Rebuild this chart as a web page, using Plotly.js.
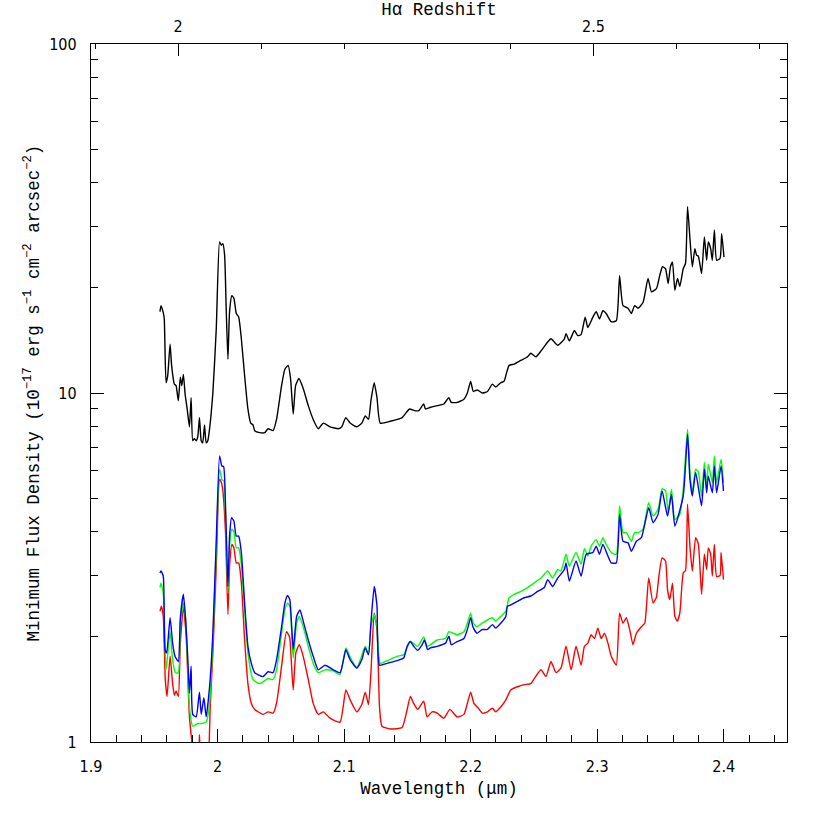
<!DOCTYPE html>
<html>
<head>
<meta charset="utf-8">
<script src="https://cdn.plot.ly/plotly-3.0.1.min.js"></script>
<style>
  html, body { margin: 0; padding: 0; background: #fff; }
  #chart { width: 830px; height: 830px; }
</style>
</head>
<body>
<div id="chart"></div>
<script>
// Minimum flux density spectra, wavelength in microns
const blackWave = [1.9545,1.9553,1.9571,1.9579,1.9593,1.9606,1.9625,1.9637,1.9659,1.9672,1.9690,1.9706,1.9717,1.9730,1.9744,1.9760,1.9778,1.9791,1.9804,1.9817,1.9831,1.9844,1.9857,1.9871,1.9883,1.9897,1.9910,1.9923,1.9937,1.9963,1.9990,2.0016,2.0030,2.0042,2.0056,2.0069,2.0082,2.0095,2.0113,2.0129,2.0148,2.0167,2.0188,2.0214,2.0240,2.0262,2.0280,2.0294,2.0333,2.0373,2.0399,2.0439,2.0466,2.0506,2.0532,2.0558,2.0577,2.0598,2.0617,2.0643,2.0677,2.0717,2.0756,2.0796,2.0836,2.0889,2.0955,2.0982,2.1013,2.1048,2.1101,2.1140,2.1167,2.1193,2.1212,2.1238,2.1260,2.1286,2.1365,2.1458,2.1492,2.1518,2.1556,2.1590,2.1629,2.1643,2.1683,2.1736,2.1788,2.1828,2.1847,2.1894,2.1947,2.1974,2.2000,2.2021,2.2053,2.2093,2.2133,2.2172,2.2198,2.2238,2.2264,2.2286,2.2304,2.2344,2.2397,2.2450,2.2476,2.2516,2.2556,2.2609,2.2635,2.2688,2.2741,2.2754,2.2780,2.2820,2.2847,2.2873,2.2905,2.2926,2.2966,2.2992,2.3018,2.3045,2.3071,2.3111,2.3151,2.3177,2.3204,2.3244,2.3270,2.3296,2.3323,2.3363,2.3402,2.3429,2.3468,2.3494,2.3516,2.3540,2.3561,2.3579,2.3595,2.3614,2.3635,2.3653,2.3680,2.3698,2.3714,2.3733,2.3752,2.3772,2.3786,2.3799,2.3825,2.3847,2.3865,2.3878,2.3897,2.3910,2.3926,2.3944,2.3971,2.3984,2.4002];
const blackFlux = [17.1,17.8,17.0,16.3,10.7,11.2,13.8,12.0,10.6,10.5,9.5,11.1,10.5,11.3,9.9,9.0,8.0,9.7,7.3,7.4,7.3,7.5,8.5,7.3,7.2,8.1,7.2,7.3,7.9,10.0,15.3,27.1,26.5,26.8,24.8,17.1,12.5,17.1,19.0,18.7,16.9,16.5,14.3,11.2,9.0,8.2,8.1,7.8,7.7,7.7,7.9,7.8,8.4,10.5,11.7,12.0,11.0,8.7,10.5,11.0,10.3,9.2,8.4,7.9,8.2,8.0,7.9,8.0,8.5,8.2,8.0,8.2,8.6,8.4,9.5,10.7,9.7,8.2,8.3,8.5,8.8,9.0,8.9,8.9,9.3,9.0,9.1,9.2,9.3,9.7,9.4,9.4,9.6,10.0,10.8,10.1,10.2,10.0,10.1,10.6,10.4,10.7,10.8,11.5,12.0,12.1,12.4,12.7,13.0,12.7,13.2,14.0,14.3,13.7,14.3,14.8,14.1,15.1,14.6,14.7,16.5,15.4,16.5,17.1,16.3,17.2,16.9,16.0,16.1,21.7,17.8,17.5,16.9,17.8,17.5,18.2,21.3,19.5,19.9,21.7,23.0,22.7,20.6,23.0,23.7,19.7,21.3,20.2,22.7,23.5,34.2,27.7,23.0,25.9,24.8,24.7,22.0,28.0,24.0,27.1,25.9,24.0,29.3,24.0,24.3,28.6,24.5];

const blueWave = [1.9545,1.9553,1.9571,1.9585,1.9598,1.9625,1.9645,1.9664,1.9690,1.9706,1.9730,1.9746,1.9764,1.9778,1.9791,1.9804,1.9831,1.9857,1.9871,1.9892,1.9910,1.9937,1.9963,1.9990,2.0016,2.0034,2.0048,2.0063,2.0082,2.0095,2.0111,2.0129,2.0148,2.0167,2.0188,2.0214,2.0240,2.0267,2.0294,2.0360,2.0399,2.0439,2.0466,2.0506,2.0532,2.0553,2.0571,2.0598,2.0625,2.0651,2.0677,2.0717,2.0756,2.0796,2.0849,2.0915,2.0968,2.0995,2.1014,2.1048,2.1101,2.1140,2.1167,2.1193,2.1212,2.1238,2.1260,2.1280,2.1339,2.1418,2.1471,2.1498,2.1524,2.1550,2.1582,2.1617,2.1635,2.1660,2.1683,2.1736,2.1802,2.1828,2.1847,2.1894,2.1947,2.1974,2.2000,2.2018,2.2050,2.2090,2.2130,2.2172,2.2198,2.2238,2.2278,2.2291,2.2317,2.2370,2.2423,2.2476,2.2529,2.2582,2.2609,2.2648,2.2688,2.2741,2.2754,2.2780,2.2833,2.2873,2.2913,2.2966,2.2992,2.3018,2.3045,2.3085,2.3111,2.3151,2.3177,2.3204,2.3244,2.3270,2.3310,2.3349,2.3407,2.3442,2.3481,2.3513,2.3556,2.3587,2.3614,2.3680,2.3714,2.3733,2.3752,2.3778,2.3825,2.3847,2.3865,2.3878,2.3910,2.3926,2.3944,2.3979,2.3998];
const blueFlux = [3.05,3.09,2.99,1.84,1.80,2.27,1.92,1.76,1.70,2.27,2.65,2.29,1.76,1.38,1.65,1.20,1.18,1.39,1.20,1.34,1.18,1.44,2.05,3.80,6.60,6.18,6.15,4.75,2.79,3.89,4.39,4.30,3.89,3.89,3.49,2.50,1.88,1.68,1.58,1.54,1.59,1.58,1.72,2.14,2.50,2.63,2.56,1.84,2.29,2.39,2.22,1.96,1.76,1.61,1.66,1.61,1.58,1.72,1.84,1.72,1.63,1.72,1.86,1.78,2.19,2.79,2.45,1.66,1.68,1.71,1.74,1.88,1.94,1.88,1.83,1.90,1.96,1.84,1.86,1.88,1.92,2.01,1.90,1.94,1.98,2.10,2.27,2.14,2.05,2.10,2.10,2.17,2.12,2.19,2.29,2.45,2.47,2.53,2.59,2.62,2.70,2.77,2.92,2.79,2.95,3.12,3.26,2.89,3.30,2.99,3.45,3.49,3.64,3.45,3.68,3.41,3.26,3.26,4.49,3.76,3.72,3.52,3.76,3.85,4.69,4.25,4.49,5.24,4.44,5.12,4.16,5.07,7.62,5.66,5.07,5.92,4.75,6.05,5.18,5.78,5.18,6.18,5.18,6.18,5.24];

const greenWave = [1.9545,1.9553,1.9571,1.9593,1.9625,1.9645,1.9667,1.9690,1.9706,1.9730,1.9750,1.9778,1.9804,1.9844,1.9871,1.9910,1.9937,1.9963,1.9990,2.0016,2.0034,2.0050,2.0063,2.0082,2.0095,2.0113,2.0129,2.0148,2.0167,2.0188,2.0214,2.0240,2.0280,2.0333,2.0399,2.0439,2.0466,2.0506,2.0532,2.0553,2.0571,2.0598,2.0625,2.0646,2.0677,2.0717,2.0756,2.0796,2.0849,2.0915,2.0968,2.1014,2.1048,2.1101,2.1167,2.1193,2.1212,2.1238,2.1260,2.1286,2.1339,2.1418,2.1471,2.1524,2.1582,2.1629,2.1660,2.1736,2.1802,2.1828,2.1894,2.1947,2.1974,2.2000,2.2018,2.2050,2.2090,2.2172,2.2198,2.2238,2.2278,2.2304,2.2344,2.2397,2.2450,2.2503,2.2556,2.2609,2.2648,2.2688,2.2714,2.2754,2.2780,2.2833,2.2873,2.2899,2.2926,2.2952,2.2992,2.3018,2.3045,2.3071,2.3111,2.3151,2.3177,2.3204,2.3230,2.3270,2.3296,2.3323,2.3363,2.3407,2.3442,2.3481,2.3513,2.3540,2.3561,2.3587,2.3614,2.3653,2.3680,2.3714,2.3733,2.3752,2.3778,2.3799,2.3825,2.3847,2.3865,2.3878,2.3910,2.3926,2.3944,2.3979,2.3998];
const greenFlux = [2.77,2.85,2.67,1.61,2.07,1.72,1.58,1.58,2.19,2.50,2.20,1.26,1.11,1.13,1.13,1.14,1.29,1.96,3.56,6.05,5.66,5.60,4.44,2.67,3.64,4.07,4.00,3.60,3.60,3.23,2.39,1.80,1.51,1.47,1.52,1.51,1.61,2.05,2.39,2.50,2.45,1.74,2.19,2.29,2.14,1.88,1.68,1.58,1.61,1.60,1.56,1.86,1.75,1.63,1.88,1.78,2.14,2.32,2.14,1.68,1.71,1.76,1.78,1.94,1.88,2.00,1.88,1.96,1.98,2.07,2.03,2.07,2.19,2.34,2.20,2.14,2.19,2.27,2.22,2.29,2.37,2.59,2.65,2.70,2.77,2.86,2.95,3.09,2.95,3.12,3.09,3.45,3.19,3.49,3.23,3.58,3.41,3.64,3.80,3.64,3.85,3.68,3.49,3.45,4.75,3.98,3.98,3.76,3.98,3.98,4.07,4.85,4.44,4.64,5.32,5.25,4.54,5.30,4.34,4.49,5.30,7.88,5.92,5.18,6.05,5.95,5.07,6.32,5.42,6.25,5.54,6.60,5.54,6.46,5.54];

const redWave = [1.9545,1.9556,1.9571,1.9587,1.9601,1.9625,1.9645,1.9659,1.9672,1.9690,1.9706,1.9730,1.9752,1.9778,1.9796,1.9820,1.9845,1.9857,1.9872,1.9900,1.9920,1.9942,1.9963,1.9990,2.0016,2.0030,2.0042,2.0063,2.0082,2.0095,2.0113,2.0129,2.0148,2.0167,2.0188,2.0214,2.0240,2.0267,2.0294,2.0360,2.0399,2.0439,2.0466,2.0506,2.0545,2.0569,2.0585,2.0598,2.0619,2.0646,2.0677,2.0717,2.0756,2.0796,2.0836,2.0889,2.0968,2.1014,2.1048,2.1101,2.1140,2.1167,2.1193,2.1212,2.1238,2.1260,2.1280,2.1299,2.1365,2.1458,2.1492,2.1524,2.1550,2.1582,2.1629,2.1656,2.1696,2.1736,2.1788,2.1836,2.1894,2.1947,2.1974,2.2000,2.2026,2.2053,2.2093,2.2133,2.2172,2.2198,2.2238,2.2278,2.2317,2.2370,2.2423,2.2476,2.2503,2.2556,2.2595,2.2635,2.2675,2.2714,2.2754,2.2794,2.2833,2.2873,2.2899,2.2926,2.2952,2.2979,2.3005,2.3032,2.3058,2.3085,2.3111,2.3151,2.3177,2.3204,2.3230,2.3257,2.3283,2.3310,2.3349,2.3376,2.3407,2.3442,2.3468,2.3486,2.3513,2.3540,2.3556,2.3574,2.3595,2.3614,2.3633,2.3653,2.3680,2.3698,2.3714,2.3733,2.3752,2.3778,2.3799,2.3825,2.3847,2.3865,2.3878,2.3897,2.3910,2.3926,2.3944,2.3971,2.3979,2.3998];
const redFlux = [2.37,2.45,2.29,1.51,1.35,1.76,1.47,1.36,1.40,1.35,1.92,2.45,2.01,1.18,1.01,0.85,0.85,1.05,0.85,0.85,0.85,1.26,1.80,3.19,5.66,5.54,5.24,3.98,2.32,3.19,3.68,3.60,3.26,3.26,2.86,1.96,1.47,1.29,1.24,1.20,1.22,1.21,1.29,1.65,2.07,2.00,1.65,1.41,1.80,1.90,1.76,1.51,1.29,1.20,1.22,1.17,1.14,1.41,1.32,1.22,1.28,1.39,1.28,1.58,2.34,2.10,1.26,1.11,1.09,1.10,1.21,1.35,1.29,1.24,1.31,1.18,1.22,1.21,1.17,1.24,1.18,1.20,1.29,1.39,1.29,1.26,1.21,1.22,1.25,1.22,1.26,1.32,1.41,1.44,1.46,1.47,1.52,1.61,1.54,1.70,1.58,1.63,1.88,1.61,1.88,1.66,1.88,1.92,2.03,1.98,2.12,1.98,2.05,1.92,1.76,1.66,2.34,2.19,2.27,2.10,1.90,2.05,2.14,2.19,2.95,2.50,2.60,2.95,3.37,3.30,2.73,2.56,2.85,2.29,2.22,2.34,3.05,3.10,4.80,3.64,3.09,3.85,3.70,2.65,3.45,3.12,3.60,3.45,2.99,3.68,2.98,3.00,3.49,2.92];

// Axis settings
const waveRange = [1.9, 2.45];
const halphaRest = 0.6563;
const yMajor = [1, 10, 100];
const yMajorText = ["1", "10", "100"];
const yMinor = [2, 3, 4, 5, 6, 7, 8, 9, 20, 30, 40, 50, 60, 70, 80, 90];

// top axis is H-alpha redshift, linear in wavelength
const zRange = waveRange.map(w => w / halphaRest - 1);

function line(x, y, color) {
  return {
    x: x, y: y, type: "scatter", mode: "lines",
    line: { color: color, width: 1.4, shape: "spline", smoothing: 0.5 },
    hoverinfo: "skip", showlegend: false
  };
}

const traces = [
  line(redWave, redFlux, "#ff0000"),
  line(greenWave, greenFlux, "#00ff00"),
  line(blueWave, blueFlux, "#0000ff"),
  line(blackWave, blackFlux, "#000000"),
  // carrier so the redshift axis gets drawn
  { x: zRange, y: [1, 1], xaxis: "x2", yaxis: "y", type: "scatter", mode: "none", hoverinfo: "skip", showlegend: false }
];

const tickFont = { family: "DejaVu Sans Condensed, Liberation Sans Narrow, sans-serif", size: 16, color: "#000" };
const titleFont = { family: "Liberation Mono, DejaVu Sans Mono, monospace", size: 17.5, color: "#000" };

const layout = {
  width: 830, height: 830,
  margin: { l: 91, r: 43, t: 44, b: 88 },
  paper_bgcolor: "#fff", plot_bgcolor: "#fff",
  showlegend: false,
  xaxis: {
    range: waveRange, showgrid: false, zeroline: false,
    showline: true, linecolor: "#000", linewidth: 1.2, mirror: false,
    ticks: "inside", ticklen: 13, tickwidth: 1, tickcolor: "#000",
    dtick: 0.1, tick0: 1.9, tickformat: "~g",
    ticklabelstandoff: 10,
    minor: { ticks: "inside", dtick: 0.02, tick0: 1.9, ticklen: 7, tickwidth: 1, tickcolor: "#000", showgrid: false },
    tickfont: tickFont,
    title: { text: "Wavelength (\u03bcm)", font: titleFont, standoff: 6 }
  },
  xaxis2: {
    overlaying: "x", side: "top", anchor: "y",
    range: zRange, showgrid: false, zeroline: false,
    showline: true, linecolor: "#000", linewidth: 1.2,
    ticks: "inside", ticklen: 12, tickwidth: 1, tickcolor: "#000",
    dtick: 0.5, tick0: 0, tickformat: "~g",
    ticklabelstandoff: 4,
    minor: { ticks: "inside", dtick: 0.1, tick0: 0, ticklen: 5, tickwidth: 1, tickcolor: "#000", showgrid: false },
    tickfont: tickFont,
    title: { text: "H\u03b1 Redshift", font: titleFont, standoff: 0 }
  },
  yaxis: {
    type: "log", range: [0, 2], showgrid: false, zeroline: false,
    showline: true, linecolor: "#000", linewidth: 1.2, mirror: "ticks",
    ticks: "inside", ticklen: 13, tickwidth: 1, tickcolor: "#000",
    tickmode: "array", tickvals: yMajor, ticktext: yMajorText,
    ticklabelstandoff: 10,
    minor: { ticks: "inside", tickvals: yMinor, ticklen: 7, tickwidth: 1, tickcolor: "#000", showgrid: false },
    tickfont: tickFont,
    title: { text: "Minimum Flux Density (10<sup>\u221217</sup> erg s<sup>\u22121</sup> cm<sup>\u22122</sup> arcsec<sup>\u22122</sup>)", font: titleFont, standoff: 5 }
  }
};

Plotly.newPlot("chart", traces, layout, { staticPlot: true, displayModeBar: false });
</script>
</body>
</html>
